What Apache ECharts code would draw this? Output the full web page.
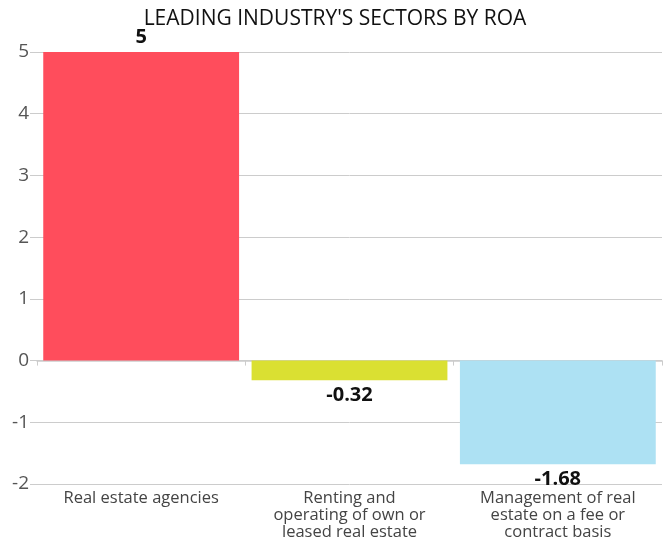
<!DOCTYPE html>
<html>
<head>
<meta charset="utf-8">
<script src="https://cdn.jsdelivr.net/npm/echarts@6/dist/echarts.min.js"></script>
<style>
  html, body { margin: 0; padding: 0; background: #fff; }
  #chart { width: 670px; height: 545px; }
</style>
</head>
<body>
<div id="chart"></div>
<script>
// data
const categories = [
  'Real estate agencies',
  'Renting and\noperating of own or\nleased real estate',
  'Management of real\nestate on a fee or\ncontract basis'
]
const roaValues = [5, -0.32, -1.68]
const barColors = ['#FF4D5C', '#DAE032', '#ADE1F3']
const yTicks = [-2, -1, 0, 1, 2, 3, 4, 5]

const fontFamily = '"Open Sans", "Noto Sans", sans-serif'

let myChart = echarts.init(document.getElementById('chart'))
myChart.setOption({
  animation: false,
  title: {
    text: "LEADING INDUSTRY'S SECTORS BY ROA",
    left: 'center',
    top: 4,
    textStyle: { fontFamily, fontSize: 21, fontWeight: 'normal', color: '#111' }
  },
  grid: { left: 37, right: 8, top: 52, bottom: 61, containLabel: false },
  xAxis: [
    {
      // zero line with ticks between categories
      type: 'category',
      data: categories,
      axisLine: { onZero: true, lineStyle: { color: '#ccc', width: 1.5 } },
      axisTick: { show: true, length: 5, lineStyle: { color: '#ccc' } },
      axisLabel: { show: false },
      splitLine: { show: false }
    },
    {
      // category names along the bottom
      type: 'category',
      data: categories,
      position: 'bottom',
      axisLine: { show: false, onZero: false },
      axisTick: { show: false },
      axisLabel: {
        margin: 6,
        interval: 0,
        fontFamily,
        fontSize: 16.5,
        lineHeight: 17,
        color: '#444'
      }
    }
  ],
  yAxis: {
    type: 'value',
    min: yTicks[0],
    max: yTicks[yTicks.length - 1],
    interval: 1,
    axisLine: { show: false },
    axisTick: { show: true, length: 7, lineStyle: { color: '#ccc' } },
    axisLabel: { margin: 8, fontFamily, fontSize: 19, color: '#555' },
    splitLine: { lineStyle: { color: '#ccc' } }
  },
  series: [
    {
      type: 'bar',
      xAxisIndex: 0,
      barCategoryGap: '6%',
      data: roaValues.map((v, i) => ({
        value: v,
        itemStyle: { color: barColors[i] },
        label: { position: v >= 0 ? 'top' : 'bottom' }
      })),
      label: {
        show: true,
        distance: 5,
        fontFamily,
        fontSize: 20,
        fontWeight: 'bold',
        color: '#111'
      }
    }
  ]
})
</script>
</body>
</html>
